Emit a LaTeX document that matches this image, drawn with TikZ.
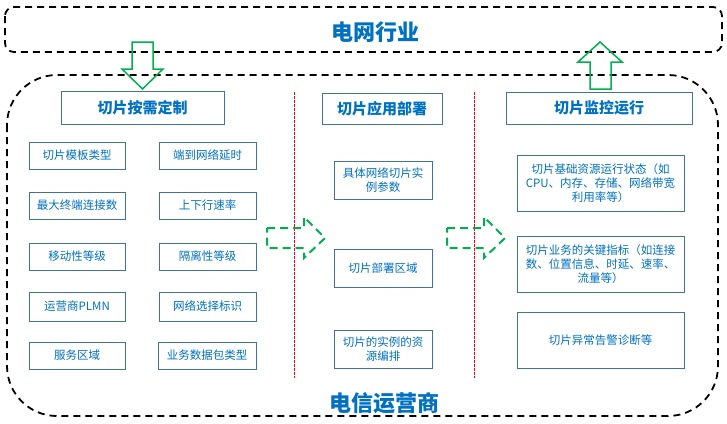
\documentclass[tikz,border=0pt]{standalone}
\usepackage{fontspec}
\setmainfont{Noto Sans CJK SC}
\definecolor{txtblue}{HTML}{0070C0}
\definecolor{boxblue}{HTML}{41719C}
\definecolor{arrgreen}{HTML}{00B050}
\tikzset{
  bigdash/.style={draw=black, line width=1.8pt, dash pattern=on 7pt off 5pt},
  sepline/.style={draw=red, line width=0.8pt, dash pattern=on 2.5pt off 1.5pt},
  titlebox/.style={draw=boxblue, line width=1pt, text=txtblue, font=\fontsize{15}{17}\selectfont\bfseries, inner sep=0pt, align=center},
  itembox/.style={draw=boxblue, line width=1pt, text=txtblue, font=\fontsize{11.5}{14}\selectfont, inner sep=0pt, align=center},
  solidarrow/.style={draw=arrgreen, line width=1.5pt, line join=miter},
  dasharrow/.style={draw=arrgreen, line width=2pt, dash pattern=on 8pt off 5pt},
  bigtext/.style={text=txtblue, font=\fontsize{22}{24}\selectfont\bfseries, inner sep=0pt}
}
\begin{document}
\begin{tikzpicture}[x=1pt, y=-1pt]
\useasboundingbox (0,0) rectangle (727,423);
% outer frames
\draw[bigdash, rounded corners=9pt] (5,7) rectangle (722,52);
\draw[bigdash, rounded corners=50pt] (7,75) rectangle (718,416);
\node[bigtext] (industry) at (375,32) {电网行业};
\node[bigtext] (operator) at (384,403) {电信运营商};
% separators
\draw[sepline] (294,92) -- (294,378);
\draw[sepline] (474,92) -- (474,378);
% titles
\node[titlebox, minimum width=163pt, minimum height=33pt] (t1) at (142.5,107.5) {切片按需定制};
\node[titlebox, minimum width=120pt, minimum height=31pt] (t2) at (382,108.5) {切片应用部署};
\node[titlebox, minimum width=186pt, minimum height=32pt] (t3) at (599,108) {切片监控运行};
% left column
\tikzset{lbox/.style={itembox, minimum width=96pt, minimum height=27pt}}
\node[lbox] (a1) at (77,155.5) {切片模板类型};
\node[lbox] (a2) at (77,205.5) {最大终端连接数};
\node[lbox] (a3) at (77,256.5) {移动性等级};
\node[lbox, minimum height=29pt] (a4) at (77,306.5) {运营商PLMN};
\node[lbox] (a5) at (77,355.5) {服务区域};
\node[lbox, minimum width=97pt] (b1) at (207.5,155.5) {端到网络延时};
\node[lbox, minimum width=97pt] (b2) at (207.5,205.5) {上下行速率};
\node[lbox, minimum width=97pt] (b3) at (207.5,256.5) {隔离性等级};
\node[lbox, minimum width=97pt, minimum height=29pt] (b4) at (207.5,306.5) {网络选择标识};
\node[lbox, minimum width=98pt] (b5) at (207,355.5) {业务数据包类型};
% middle column
\tikzset{mbox/.style={itembox, minimum width=98pt, minimum height=38pt}}
\node[mbox] (m1) at (383,180) {具体网络切片实\\例参数};
\node[mbox] (m2) at (383,268) {切片部署区域};
\node[mbox] (m3) at (383,349) {切片的实例的资\\源编排};
% right column
\tikzset{rbox/.style={itembox, minimum width=167pt, minimum height=56pt}}
\node[rbox] (r1) at (600.5,183) {切片基础资源运行状态（如\\CPU、内存、存储、网络带宽\\利用率等）};
\node[rbox] (r2) at (600.5,264) {切片业务的关键指标（如连接\\数、位置信息、时延、速率、\\流量等）};
\node[rbox] (r3) at (600.5,340) {切片异常告警诊断等};
% green block arrows
\draw[solidarrow] (132,42) -- (153,42) -- (153,69) -- (163,69) -- (142.5,89) -- (122,69) -- (132,69) -- cycle;
\draw[solidarrow] (600,42) -- (622,62) -- (611,62) -- (611,89) -- (590,89) -- (590,62) -- (578,62) -- cycle;
\draw[dasharrow] (267,228) -- (304,228) -- (304,217) -- (325,238) -- (304,258) -- (304,248) -- (267,248) -- cycle;
\draw[dasharrow] (447,228) -- (484,228) -- (484,217) -- (505,238) -- (484,258) -- (484,248) -- (447,248) -- cycle;
\end{tikzpicture}
\end{document}
